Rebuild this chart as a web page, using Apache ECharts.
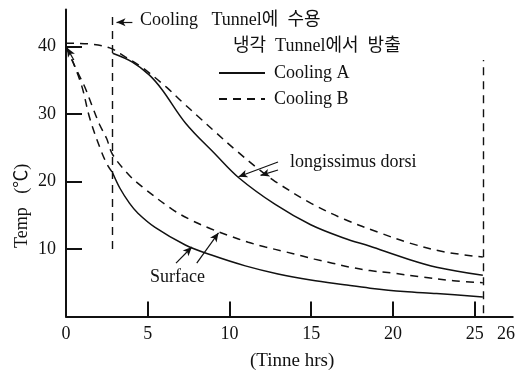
<!DOCTYPE html>
<html>
<head>
<meta charset="utf-8">
<script src="https://cdn.jsdelivr.net/npm/echarts@6/dist/echarts.min.js"></script>
<style>
  html, body { margin: 0; padding: 0; background: #fff; }
  #chart { width: 518px; height: 377px; }
</style>
</head>
<body>
<div id="chart"></div>
<script>
// [hours, temp]
const longA = [[2.85, 39.0], [4.06, 37.7], [5.09, 35.8], [5.88, 33.6], [7.33, 28.6], [9.15, 24.0], [10.55, 20.6],
    [12.8, 16.6], [14.97, 13.6], [17.03, 11.6], [18.6, 10.4], [20.67, 8.7], [22.67, 7.3], [25.5, 6.1]];
const longB = [[0, 40.5], [1.33, 40.4], [2.67, 39.8], [3.6, 38.5], [4.6, 37.0], [6.18, 33.9], [7.1, 31.8], [8.1, 29.6],
    [9.15, 27.3], [10.36, 24.7], [11.9, 21.6], [12.8, 20.0], [14.97, 16.8], [17.03, 14.4], [19.2, 12.4], [21.0, 10.9],
    [23.1, 9.6], [25.5, 8.8]];
const surfAPre = [[0, 40], [0.42, 37.7], [0.97, 34.1], [1.45, 29.4], [2.06, 25.1], [2.48, 22.7], [2.85, 21.3]];
const surfA = [[2.85, 21.3], [3.3, 19.0], [3.88, 16.8], [4.4, 15.3], [5.45, 13.2], [7.3, 10.6], [8.9, 9.1],
    [10.97, 7.5], [12.97, 6.3], [14.97, 5.4], [17.03, 4.7], [18.6, 4.2], [20.67, 3.7], [22.67, 3.4], [25.5, 2.9]];
const surfB = [[0, 40], [0.73, 36.1], [1.15, 34.0], [1.58, 31.3], [2.06, 28.4], [2.48, 26.4], [2.85, 24.0],
    [3.88, 20.9], [4.67, 19.2], [6.48, 15.9], [7.64, 14.3], [8.85, 13.0], [9.94, 12.0], [11.15, 11.0], [12.2, 10.3],
    [13.4, 9.6], [14.4, 9.0], [15.2, 8.5], [16.3, 7.9], [17.4, 7.3], [18.6, 6.8], [20.1, 6.4], [21.6, 5.9],
    [23.7, 5.3], [25.5, 5.0]];

const xTickLabels = [0, 5, 10, 15, 20, 25, 26];
const xTicks = [5, 10, 15, 20, 25];
const yTicks = [10, 20, 30, 40];

// tunnel in / out times
const tunnelIn = 2.85;
const tunnelOut = 25.55;

// annotation arrows, [from, to] in data units
const arrows = [
    [[4.06, 43.6], [3.09, 43.6]],
    [[0.48, 38.0], [0.06, 39.8]],
    [[12.97, 22.9], [10.55, 20.7]],
    [[12.97, 21.7], [11.9, 20.9]],
    [[6.73, 7.9], [7.7, 10.3]],
    [[8.0, 7.9], [9.33, 12.4]]
];

const FONT = "'Liberation Serif', 'Noto Sans CJK KR', serif";
const INK = '#111';
const DASH = [8, 6];

const chart = echarts.init(document.getElementById('chart'));

const vline = { type: DASH, width: 1.4, color: INK };
const markLines = [
    [{ coord: [tunnelIn, 10], symbol: 'none', lineStyle: vline }, { coord: [tunnelIn, 45], symbol: 'none' }],
    [{ coord: [tunnelOut, 0.5], symbol: 'none', lineStyle: vline }, { coord: [tunnelOut, 38], symbol: 'none' }]
];

arrows.forEach(a => {
    markLines.push([
        { coord: a[0], symbol: 'none', lineStyle: { type: 'solid', width: 1.2, color: INK } },
        { coord: a[1], symbol: 'arrow', symbolSize: [6, 9] }
    ]);
});

function line(name, data, dashed, extra) {
    return Object.assign({
        name: name,
        type: 'line',
        data: data,
        smooth: 0.35,
        symbol: 'none',
        lineStyle: { color: INK, width: 1.5, type: dashed ? DASH : 'solid' },
        itemStyle: { color: INK },
        animation: false
    }, extra || {});
}

const option = {
    animation: false,
    grid: { left: 66, right: 1, top: 9.4, bottom: 60.5 },
    legend: {
        data: ['Cooling A', 'Cooling B'],
        orient: 'vertical',
        left: 213,
        top: 59,
        itemWidth: 46,
        itemHeight: 12,
        itemGap: 8,
        itemStyle: { opacity: 0 },
        textStyle: { fontFamily: FONT, fontSize: 18, color: INK, padding: [0, 0, 0, 4] }
    },
    xAxis: {
        type: 'value',
        min: 0,
        max: 27.33,
        splitLine: { show: false },
        axisLine: { lineStyle: { color: INK, width: 2 } },
        axisTick: { inside: true, length: 15, customValues: xTicks, lineStyle: { color: INK, width: 2 } },
        axisLabel: {
            customValues: xTickLabels,
            margin: 9,
            fontFamily: FONT,
            fontSize: 18,
            color: INK,
            formatter: v => v === 26 ? '{r|26}' : String(v),
            rich: { r: { padding: [0, 0, 0, 30], fontFamily: FONT, fontSize: 18, color: INK } }
        }
    },
    yAxis: {
        type: 'value',
        min: 0,
        max: 45.5,
        splitLine: { show: false },
        axisLine: { show: true, lineStyle: { color: INK, width: 2 } },
        axisTick: { show: true, inside: true, length: 16, customValues: yTicks, lineStyle: { color: INK, width: 2 } },
        axisLabel: { customValues: yTicks, margin: 10, fontFamily: FONT, fontSize: 18, color: INK }
    },
    series: [
        line('Cooling A', longA, false, {
            markLine: { silent: true, animation: false, label: { show: false }, data: markLines }
        }),
        line('Cooling A', surfA, false),
        line('pre', surfAPre, true),
        line('Cooling B', longB, true),
        line('Cooling B', surfB, true)
    ],
    graphic: [
        { type: 'text', left: 140, top: 11, style: { text: 'Cooling   Tunnel에  수용', font: '18px ' + FONT, fill: INK } },
        { type: 'text', left: 233, top: 37, style: { text: '냉각  Tunnel에서  방출', font: '18px ' + FONT, fill: INK } },
        { type: 'text', left: 290, top: 153, style: { text: 'longissimus dorsi', font: '18px ' + FONT, fill: INK } },
        { type: 'text', left: 150, top: 268, style: { text: 'Surface', font: '18px ' + FONT, fill: INK } },
        { type: 'text', left: 250, top: 352, style: { text: '(Tinne hrs)', font: '19px ' + FONT, fill: INK } },
        {
            type: 'text', x: 13, y: 248, rotation: Math.PI / 2,
            style: { text: 'Temp   (℃)', font: '18px ' + FONT, fill: INK }
        }
    ]
};

chart.setOption(option);
</script>
</body>
</html>
